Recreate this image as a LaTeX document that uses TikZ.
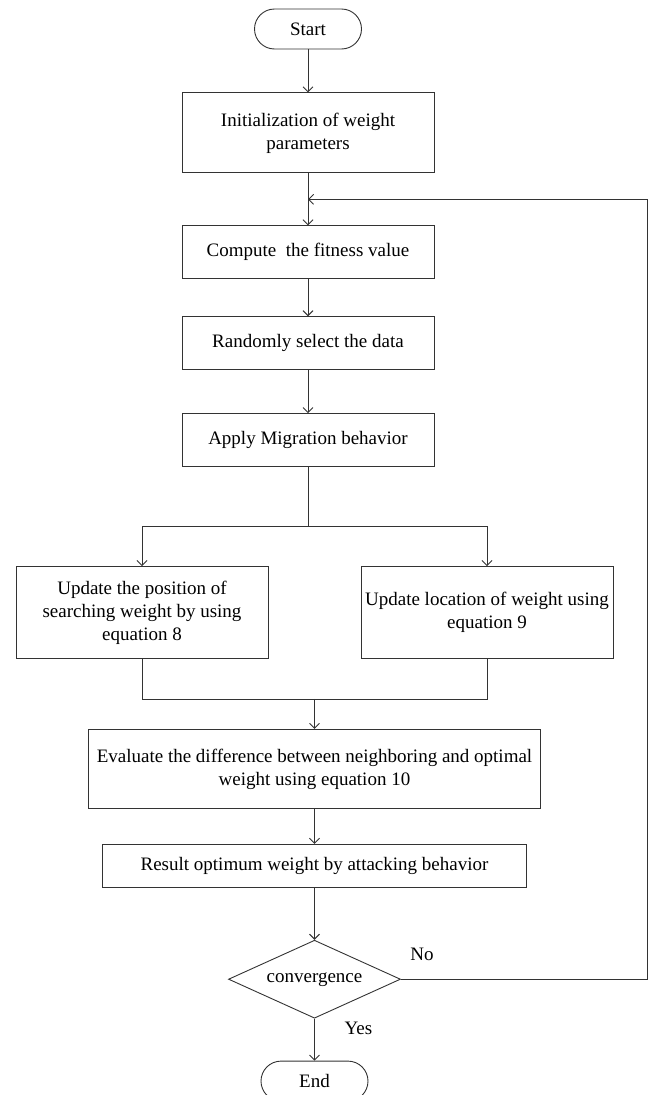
\documentclass[tikz,border=0pt]{standalone}
\usepackage{fontspec}
\setmainfont{Liberation Serif}
\usepackage{tikz}
\usetikzlibrary{positioning,calc,shapes.geometric,arrows.meta}

\tikzset{
	flow/.style={draw=black!80,line width=0.9pt},
	arr/.style={flow,-{Straight Barb[length=5pt,width=10pt]}},
	proc/.style={flow,minimum width=252pt,minimum height=53pt,inner sep=2pt,align=center,font=\fontsize{19}{23}\selectfont},
	term/.style={flow,rounded corners=20pt,minimum width=107pt,minimum height=40pt,font=\fontsize{19}{23}\selectfont},
	decis/.style={flow,diamond,aspect=2.2,inner sep=0pt,minimum width=172pt,minimum height=78pt,font=\fontsize{19}{23}\selectfont},
}

\begin{document}
\begin{tikzpicture}[x=1pt,y=1pt]
		\path[use as bounding box] (0,0) rectangle (648,-1095);
		\node[term] (start) at (308,-29) {Start};
		\node[proc,minimum height=80pt,below=43pt of start] (init) {Initialization of weight\\parameters};
		\node[proc,below=52pt of init] (fit) {Compute~ the fitness value};
		\node[proc,below=37pt of fit] (rand) {Randomly select the data};
		\node[proc,below=43pt of rand] (migr) {Apply Migration behavior};
		
		\coordinate[below=59pt of migr] (split);
		\node[proc,minimum height=92pt,below=99pt of migr,xshift=-166pt] (posn) {Update the position of\\searching weight by using\\equation 8};
		\node[proc,minimum height=92pt,below=99pt of migr,xshift=179pt] (loc) {Update location of weight using\\equation 9};
		\draw[flow] (migr.south)--(split);
		\draw[arr] (split-|posn.north)--(split-|loc.north) (split-|posn.north)--(posn.north);
		\draw[arr] (split-|loc.north)--(loc.north);
		
		\coordinate (merge) at ($(posn.south)!0.5!(loc.south)+(0,-40)$);
		\draw[flow] (posn.south)|-(merge) (loc.south)|-(merge);
		\node[proc,minimum width=452pt,minimum height=79pt,below=30pt of merge] (diff) {Evaluate the difference between neighboring and optimal\\weight using equation 10};
		\draw[arr] (merge)--(diff.north);
		
		\node[proc,minimum width=424pt,minimum height=43pt,below=35pt of diff] (rslt) {Result optimum weight by attacking behavior};
		\node[decis,below=52pt of rslt] (conv) {convergence};
		\node[term,below=42pt of conv] (stop) {End};
		
		\draw[arr] (start)--(init);
		\draw[arr] (init)--(fit);
		\draw[arr] (fit)--(rand);
		\draw[arr] (rand)--(migr);
		\draw[arr] (diff)--(rslt);
		\draw[arr] (rslt)--(conv);
		\draw[arr] (conv)--(stop);
		
		% loop back when not converged
		\coordinate (loop) at ($(init.south)!0.5!(fit.north)$);
		\draw[arr] (conv.east)--++(246,0)|-(loop);
		\node[font=\fontsize{19}{23}\selectfont] (no) at ($(conv.east)+(21,25)$) {No};
		\node[font=\fontsize{19}{23}\selectfont] (yes) at ($(conv.south)+(44,-10)$) {Yes};
	\end{tikzpicture}
\end{document}
